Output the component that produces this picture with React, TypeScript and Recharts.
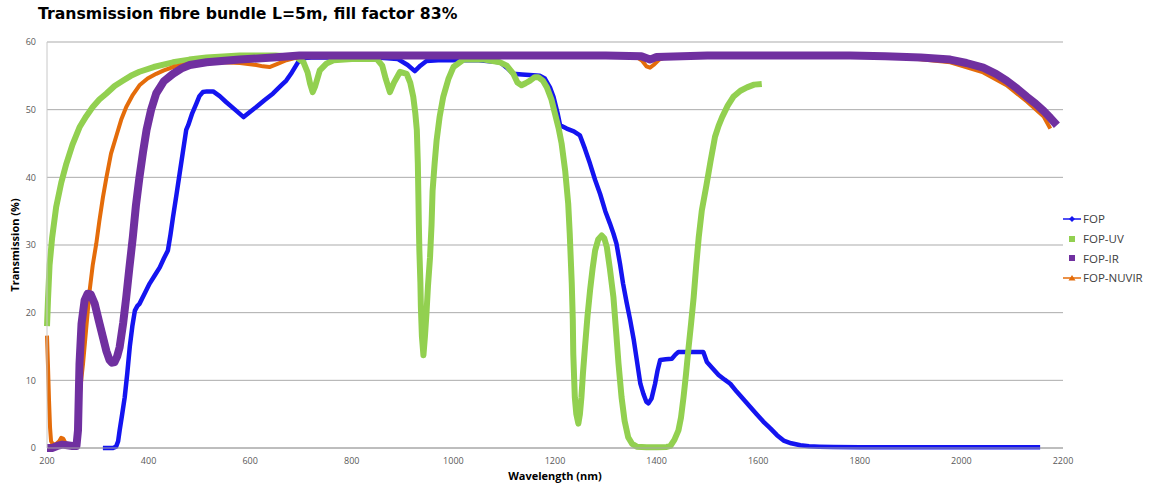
import React from 'react';
import { LineChart, Line, XAxis, YAxis, CartesianGrid } from 'recharts';

// Wavelength (nm) and transmission (%) per fibre type
const fopWavelength = [
  310, 320, 330, 336, 340, 343, 348, 353, 358, 363, 368, 373, 378, 382, 392, 402, 412, 422, 430, 438,
  443, 448, 455, 461, 468, 474, 478, 486, 494, 500, 507, 515, 527, 540, 553, 570, 587, 600, 612, 628,
  645, 660, 671, 682, 694, 700, 720, 760, 800, 850, 890, 910, 924, 935, 947, 970, 1000, 1050, 1092, 1105,
  1118, 1135, 1157, 1170, 1180, 1190, 1197, 1205, 1210, 1223, 1237, 1249, 1259, 1269, 1279, 1289, 1299, 1308, 1315, 1321,
  1328, 1334, 1341, 1348, 1355, 1361, 1368, 1374, 1380, 1384, 1390, 1397, 1402, 1407, 1418, 1430, 1437, 1443, 1460, 1475,
  1492, 1499, 1510, 1522, 1534, 1545, 1558, 1571, 1584, 1597, 1610, 1624, 1637, 1650, 1665, 1683, 1700, 1720, 1748, 1800,
  1900, 2000, 2100, 2155,
];
const fopValue = [
  0, 0, 0, 0.2, 1, 2.6, 5, 7.5, 11, 15, 18, 20.3, 21, 21.3, 22.8, 24.3, 25.5, 26.7, 28, 29.2,
  31.5, 34.1, 37.5, 40.5, 44, 47, 47.7, 49.5, 50.9, 52, 52.6, 52.7, 52.7, 52, 51.1, 50, 48.9, 49.7, 50.4, 51.4,
  52.4, 53.5, 54.3, 55.5, 57, 57.6, 57.7, 57.7, 57.7, 57.7, 57.5, 56.6, 55.7, 56.5, 57.2, 57.3, 57.3, 57.3, 57, 56.2,
  55.3, 55.2, 55.1, 55, 54.6, 53.3, 51.9, 49.5, 47.7, 47.2, 46.8, 46.2, 44.2, 42, 39.6, 37.5, 35, 33.2, 31.7, 30.2,
  27.2, 24.3, 21.5, 18.9, 16, 13, 9.5, 8, 6.8, 6.6, 7.3, 9.5, 11.5, 13, 13.1, 13.2, 13.8, 14.2, 14.2, 14.2,
  14.2, 12.7, 11.8, 10.8, 10.1, 9.5, 8.3, 7.2, 6.1, 5, 3.9, 2.9, 1.9, 1.1, 0.7, 0.4, 0.25, 0.2, 0.15, 0.1,
  0.1, 0.1, 0.1, 0.1,
];

const fopUvWavelength = [
  200, 202, 205, 210, 218, 228, 238, 250, 264, 277, 290, 303, 317, 333, 350, 365, 382, 410, 448, 480,
  514, 579, 650, 690, 705, 713, 718, 723, 728, 737, 750, 764, 800, 849, 860, 867, 875, 883, 895, 908,
  915, 921, 925, 928, 930, 931, 932, 933, 935, 936, 938, 941, 944, 947, 950, 954, 957, 959, 963, 967,
  973, 980, 990, 1000, 1020, 1060, 1092, 1105, 1118, 1126, 1134, 1142, 1151, 1160, 1167, 1176, 1184, 1193, 1200, 1207,
  1213, 1220, 1226, 1229, 1231, 1233, 1235, 1236, 1239, 1242, 1246, 1249, 1252, 1255, 1259, 1264, 1269, 1274, 1279, 1285,
  1292, 1297, 1302, 1308, 1315, 1320, 1325, 1331, 1337, 1344, 1352, 1361, 1380, 1400, 1420, 1427, 1435, 1443, 1448, 1453,
  1458, 1463, 1468, 1473, 1478, 1483, 1489, 1498, 1506, 1515, 1522, 1529, 1540, 1551, 1565, 1578, 1592, 1607,
];
const fopUvValue = [
  18, 22, 27, 31, 35.6, 39.2, 42, 44.8, 47.4, 49, 50.4, 51.5, 52.4, 53.5, 54.3, 55, 55.6, 56.3, 57, 57.4,
  57.7, 58, 58, 57.8, 57, 55.5, 53.8, 52.6, 53.5, 55.8, 56.8, 57.3, 57.5, 57.5, 56.5, 54.5, 52.6, 54, 55.6, 55.3,
  54, 51.9, 49.5, 47, 42, 37.6, 33, 29.2, 24.5, 20.8, 16.5, 13.7, 16.5, 19.9, 24, 28.2, 33, 38, 42, 45.5,
  49, 51.9, 54.5, 56.3, 57.4, 57.4, 57, 56.5, 55.3, 54, 53.6, 53.9, 54.3, 54.8, 54.8, 54.3, 53.3, 51.5, 49.4, 47.3,
  45, 41, 36.1, 31.7, 28, 24.3, 19, 13.9, 7.5, 5, 3.6, 5, 7.5, 11, 14.9, 19.5, 23.3, 26.5, 29.2, 30.8,
  31.4, 31, 29.7, 26.5, 22.3, 17.5, 12.5, 7.5, 4, 1.6, 0.6, 0.2, 0.1, 0.1, 0.15, 0.3, 1.2, 2.6, 4.5, 7.5,
  11, 14.9, 18.5, 22.3, 27, 31.2, 35.1, 38.8, 42.3, 46, 47.6, 48.9, 50.6, 51.9, 52.8, 53.3, 53.7, 53.8,
];

const fopIrWavelength = [
  200, 210, 220, 230, 240, 250, 258, 261, 264, 268, 274, 280, 286, 294, 302, 310, 317, 323, 328, 333,
  338, 343, 350, 356, 362, 369, 375, 382, 389, 396, 405, 415, 430, 448, 465, 481, 514, 579, 645, 697,
  800, 900, 1000, 1100, 1200, 1300, 1370, 1387, 1400, 1500, 1600, 1700, 1781, 1850, 1920, 1978, 2010, 2043, 2068, 2089,
  2110, 2129, 2146, 2162, 2175, 2188,
];
const fopIrValue = [
  0, 0, 0.3, 0.5, 0.4, 0.3, 0.3, 2.6, 12.5, 18.4, 21.8, 22.8, 22.7, 21.3, 18.8, 16.4, 14.3, 13, 12.6, 12.7,
  13.5, 14.9, 18.5, 22.3, 26.5, 31.2, 35.8, 40, 43.7, 47, 50, 52.4, 54.2, 55.3, 56.1, 56.6, 57, 57.4, 57.7, 58,
  58, 58, 58, 58, 58, 58, 57.9, 57.4, 57.8, 58, 58, 58, 58, 57.9, 57.7, 57.4, 56.9, 56.2, 55.3, 54.3,
  53.1, 51.9, 50.9, 49.8, 48.8, 47.7,
];

const fopNuvirWavelength = [
  200, 202, 204, 206, 208, 212, 218, 224, 228, 232, 236, 242, 250, 256, 260, 264, 268, 271, 277, 284,
  290, 297, 303, 310, 317, 326, 336, 346, 356, 369, 382, 398, 415, 430, 448, 481, 514, 546, 580, 612,
  625, 638, 655, 671, 697, 750, 900, 1100, 1300, 1360, 1372, 1380, 1387, 1394, 1405, 1420, 1500, 1700, 1800, 1900,
  1978, 2043, 2089, 2129, 2162, 2175,
];
const fopNuvirValue = [
  16.6, 12, 7, 3, 1, 0.5, 0.6, 1, 1.5, 1.4, 0.8, 0.5, 0.5, 0.6, 2, 7.5, 10.5, 12.5, 17.5, 23.3,
  27, 30.2, 33.5, 37, 40, 43.5, 46, 48.5, 50.4, 52.2, 53.6, 54.6, 55.3, 55.8, 56.3, 56.8, 57, 57, 56.9, 56.6,
  56.4, 56.3, 56.8, 57.3, 57.8, 57.9, 57.9, 57.9, 57.9, 57.8, 57.2, 56.4, 56.2, 56.6, 57.4, 57.8, 57.9, 57.9, 57.9, 57.6,
  57, 55.5, 53.6, 51.2, 49, 47.2,
];

const xTicks = [200, 400, 600, 800, 1000, 1200, 1400, 1600, 1800, 2000, 2200];
const yTicks = [0, 10, 20, 30, 40, 50, 60];

const toPoints = (xs: number[], ys: number[]) => xs.map((x, i) => ({ x, v: ys[i] }));

const fopData = toPoints(fopWavelength, fopValue);
const fopUvData = toPoints(fopUvWavelength, fopUvValue);
const fopIrData = toPoints(fopIrWavelength, fopIrValue);
const fopNuvirData = toPoints(fopNuvirWavelength, fopNuvirValue);

const COLORS = {
  fop: '#1414f0',
  uv: '#92d050',
  ir: '#7030a0',
  nuvir: '#e46c0a',
};

const tickStyle = { fontSize: 9, fill: '#595959', fontFamily: '"Open Sans", sans-serif' };

const LegendBox: React.FC = () => {
  const rows = [
    { name: 'FOP', color: COLORS.fop, kind: 'diamond' },
    { name: 'FOP-UV', color: COLORS.uv, kind: 'square' },
    { name: 'FOP-IR', color: COLORS.ir, kind: 'square' },
    { name: 'FOP-NUVIR', color: COLORS.nuvir, kind: 'triangle' },
  ];
  return (
    <div style={{ position: 'absolute', left: 1062, top: 209, fontFamily: '"Open Sans", sans-serif', fontSize: 11.5, color: '#404040' }}>
      {rows.map(r => (
        <div key={r.name} style={{ display: 'flex', alignItems: 'center', height: 19.7 }}>
          <svg width={20} height={12} style={{ marginRight: 1 }}>
            {r.kind !== 'square' && <line x1={1} y1={6} x2={19} y2={6} stroke={r.color} strokeWidth={1.5} />}
            {r.kind === 'diamond' && <polygon points="10,3 13,6 10,9 7,6" fill={r.color} />}
            {r.kind === 'square' && <rect x={7} y={3} width={6} height={6} fill={r.color} />}
            {r.kind === 'triangle' && <polygon points="10,3 13.5,8.5 6.5,8.5" fill={r.color} />}
          </svg>
          <span>{r.name}</span>
        </div>
      ))}
    </div>
  );
};

export default function App() {
  return (
    <div style={{ position: 'absolute', left: 0, top: 0, width: 1149, height: 483, background: '#fff', overflow: 'hidden' }}>
      <div
        style={{
          position: 'absolute',
          left: 38,
          top: 4,
          fontFamily: '"DejaVu Sans", Verdana, sans-serif',
          fontWeight: 'bold',
          fontSize: 15.7,
          color: '#000',
          whiteSpace: 'nowrap',
        }}
      >
        Transmission fibre bundle L=5m, fill factor 83%
      </div>

      <LineChart width={1149} height={483} margin={{ top: 42, right: 86, bottom: 10, left: 0 }}>
        <CartesianGrid vertical={false} stroke="#ababab" />
        <XAxis
          type="number"
          dataKey="x"
          domain={[200, 2200]}
          ticks={xTicks}
          tick={tickStyle}
          tickLine={false}
          tickMargin={4}
          axisLine={{ stroke: '#a6a6a6' }}
          height={25}
          allowDuplicatedCategory={false}
        />
        <YAxis
          type="number"
          domain={[0, 60]}
          ticks={yTicks}
          tick={tickStyle}
          tickLine={false}
          tickMargin={5}
          axisLine={{ stroke: '#c8c8c8' }}
          width={47}
        />
        <Line data={fopData} dataKey="v" stroke={COLORS.fop} strokeWidth={4.5} dot={false} isAnimationActive={false} strokeLinejoin="round" />
        <Line data={fopUvData} dataKey="v" stroke={COLORS.uv} strokeWidth={6} dot={false} isAnimationActive={false} strokeLinejoin="round" />
        <Line data={fopNuvirData} dataKey="v" stroke={COLORS.nuvir} strokeWidth={4} dot={false} isAnimationActive={false} strokeLinejoin="round" />
        <Line data={fopIrData} dataKey="v" stroke={COLORS.ir} strokeWidth={8} dot={false} isAnimationActive={false} strokeLinejoin="round" />
      </LineChart>

      <div
        style={{
          position: 'absolute',
          left: 8,
          top: 245,
          transform: 'translate(-50%, -50%) rotate(-90deg)',
          transformOrigin: 'center',
          fontFamily: '"Open Sans", sans-serif',
          fontWeight: 'bold',
          fontSize: 11,
          whiteSpace: 'nowrap',
          color: '#000',
          marginLeft: 6,
        }}
      >
        Transmission (%)
      </div>
      <div
        style={{
          position: 'absolute',
          left: 555,
          top: 475,
          transform: 'translate(-50%, -50%)',
          fontFamily: '"Open Sans", sans-serif',
          fontWeight: 'bold',
          fontSize: 11,
          whiteSpace: 'nowrap',
          color: '#000',
        }}
      >
        Wavelength (nm)
      </div>

      <LegendBox />
    </div>
  );
}
